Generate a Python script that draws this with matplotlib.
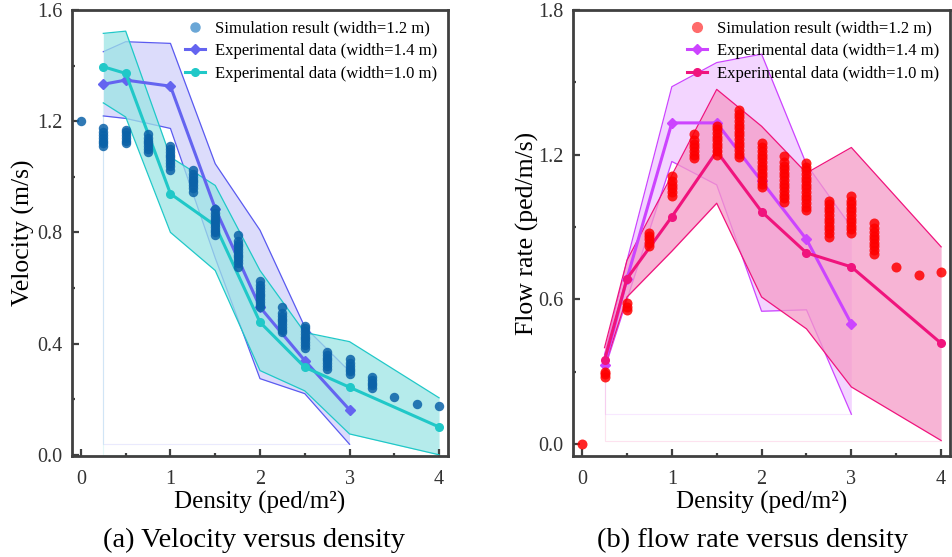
import matplotlib
matplotlib.use("Agg")
import matplotlib.pyplot as plt
from matplotlib.lines import Line2D
from matplotlib.ticker import MultipleLocator

plt.rcParams['font.family'] = ['Liberation Serif', 'DejaVu Serif']

# ---- (a) velocity vs density ----
# simulation result (width=1.2 m): clusters of values at each density
sim_v = {
    0.0: [1.20],
    0.25: [1.11, 1.12, 1.13, 1.14, 1.15, 1.16, 1.175],
    0.5: [1.12, 1.13, 1.14, 1.15, 1.16, 1.17],
    0.75: [1.09, 1.10, 1.11, 1.12, 1.13, 1.14, 1.155],
    1.0: [1.025, 1.04, 1.05, 1.06, 1.07, 1.08, 1.09, 1.10, 1.11],
    1.25: [0.945, 0.96, 0.97, 0.98, 0.99, 1.00, 1.01, 1.025],
    1.5: [0.79, 0.80, 0.81, 0.82, 0.83, 0.84, 0.85, 0.86, 0.87, 0.885],
    1.75: [0.675, 0.69, 0.70, 0.71, 0.72, 0.73, 0.74, 0.75, 0.76, 0.77, 0.79],
    2.0: [0.53, 0.54, 0.55, 0.56, 0.57, 0.58, 0.59, 0.60, 0.61, 0.625],
    2.25: [0.44, 0.45, 0.46, 0.47, 0.48, 0.49, 0.50, 0.51, 0.53],
    2.5: [0.385, 0.395, 0.405, 0.415, 0.425, 0.435, 0.445, 0.455, 0.465],
    2.75: [0.31, 0.32, 0.33, 0.34, 0.35, 0.36, 0.37],
    3.0: [0.29, 0.30, 0.31, 0.32, 0.33, 0.345],
    3.25: [0.24, 0.25, 0.26, 0.27, 0.28],
    3.5: [0.207],
    3.75: [0.183],
    4.0: [0.175],
}

dens_14 = [0.25, 0.5, 1.0, 1.5, 2.0, 2.5, 3.0]
vel_14 = [1.333, 1.348, 1.326, 0.886, 0.531, 0.339, 0.162]
vel_14_up = [1.45, 1.486, 1.48, 1.047, 0.808, 0.46, 0.30]
vel_14_lo = [1.219, 1.21, 1.174, 0.708, 0.274, 0.22, 0.038]

dens_10 = [0.25, 0.5, 1.0, 1.5, 2.0, 2.5, 3.0, 4.0]
vel_10 = [1.396, 1.372, 0.939, 0.825, 0.477, 0.315, 0.243, 0.10]
vel_10_up = [1.516, 1.524, 1.071, 0.969, 0.663, 0.44, 0.407, 0.205]
vel_10_lo = [1.266, 1.215, 0.80, 0.663, 0.303, 0.23, 0.075, 0.0]

# ---- (b) flow rate vs density ----
sim_q = {
    0.0: [0.0],
    0.25: [0.28, 0.29, 0.30],
    0.5: [0.557, 0.57, 0.585],
    0.75: [0.82, 0.835, 0.85, 0.862, 0.875],
    1.0: [1.03, 1.045, 1.06, 1.075, 1.09, 1.11],
    1.25: [1.185, 1.20, 1.215, 1.23, 1.245, 1.26, 1.285],
    1.5: [1.20, 1.215, 1.23, 1.245, 1.26, 1.275, 1.29, 1.305, 1.32],
    1.75: [1.19, 1.205, 1.22, 1.235, 1.25, 1.265, 1.28, 1.295, 1.31, 1.325,
           1.34, 1.355, 1.37, 1.385],
    2.0: [1.065, 1.08, 1.095, 1.11, 1.125, 1.14, 1.155, 1.17, 1.185, 1.20,
          1.215, 1.23, 1.25],
    2.25: [1.005, 1.02, 1.035, 1.05, 1.065, 1.08, 1.095, 1.11, 1.125, 1.14,
           1.155, 1.17, 1.195],
    2.5: [0.97, 0.985, 1.00, 1.015, 1.03, 1.045, 1.06, 1.075, 1.09, 1.105,
          1.12, 1.135, 1.15, 1.165],
    2.75: [0.86, 0.875, 0.89, 0.905, 0.92, 0.935, 0.95, 0.965, 0.98, 0.995, 1.01],
    3.0: [0.875, 0.89, 0.905, 0.92, 0.935, 0.95, 0.965, 0.98, 0.995, 1.01, 1.03],
    3.25: [0.79, 0.805, 0.82, 0.835, 0.85, 0.865, 0.88, 0.895, 0.915],
    3.5: [0.735],
    3.75: [0.70],
    4.0: [0.714],
}

flow_14 = [0.329, 0.686, 1.332, 1.332, 1.09, 0.849, 0.499]
flow_14_up = [0.37, 0.76, 1.482, 1.582, 1.617, 1.16, 0.90]
flow_14_lo = [0.31, 0.60, 1.172, 1.075, 0.551, 0.557, 0.124]

flow_10 = [0.349, 0.686, 0.943, 1.214, 0.964, 0.793, 0.735, 0.418]
flow_10_up = [0.40, 0.762, 1.115, 1.471, 1.318, 1.124, 1.23, 0.818]
flow_10_lo = [0.32, 0.61, 0.80, 0.999, 0.61, 0.478, 0.237, 0.015]

fig = plt.figure(figsize=(9.52, 5.57), dpi=100)
ax1 = fig.add_axes([0.0756, 0.181, 0.395, 0.801])
ax2 = fig.add_axes([0.602, 0.181, 0.396, 0.801])


def band(ax, x, lo, up, fill, alpha, edge, z):
    ax.fill_between(x, lo, up, color=fill, alpha=alpha, lw=0, zorder=z)
    ax.plot(x, up, color=edge, lw=0.9, zorder=z + 0.1)
    ax.plot(x, lo, color=edge, lw=0.9, zorder=z + 0.1)
    # faint closing outline of the filled area
    ax.plot([x[0], x[0], x[-1]], [lo[0], lo[-1], lo[-1]], color=edge,
            lw=0.8, alpha=0.12, zorder=z)


def sim(ax, data, color, ms):
    for d, vals in data.items():
        ax.plot([d] * len(vals), vals, 'o', color=color, ms=ms, mew=0,
                alpha=0.85, zorder=4)


# left
band(ax1, dens_14, vel_14_lo, vel_14_up, '#6464F0', 0.22, '#5A5AF0', 1.0)
band(ax1, dens_10, vel_10_lo, vel_10_up, '#9DE5E5', 0.75, '#20C8C8', 1.5)
ax1.plot(dens_14, vel_14, '-D', color='#6464F0', lw=2.2, ms=5, zorder=3)
ax1.plot(dens_10, vel_10, '-o', color='#20C8C8', lw=2.2, ms=5.5, zorder=3)
sim(ax1, sim_v, '#0B62A8', 6.8)

h1 = [Line2D([], [], ls='', marker='o', color='#6AA6D6', ms=6.5),
      Line2D([], [], ls='-', marker='D', color='#6464F0', lw=2.2, ms=5),
      Line2D([], [], ls='-', marker='o', color='#20C8C8', lw=2.2, ms=5.5)]

# right
band(ax2, dens_14, flow_14_lo, flow_14_up, '#CC44FF', 0.22, '#CC44FF', 1.0)
band(ax2, dens_10, flow_10_lo, flow_10_up, '#F59BC8', 0.75, '#F0147D', 1.5)
ax2.plot(dens_14, flow_14, '-D', color='#CC44FF', lw=2.2, ms=5, zorder=3)
ax2.plot(dens_10, flow_10, '-o', color='#F0147D', lw=2.2, ms=5.5, zorder=3)
sim(ax2, sim_q, '#FF0000', 7.2)

h2 = [Line2D([], [], ls='', marker='o', color='#FF6B6B', ms=7),
      Line2D([], [], ls='-', marker='D', color='#CC44FF', lw=2.2, ms=5),
      Line2D([], [], ls='-', marker='o', color='#F0147D', lw=2.2, ms=5.5)]

labels = ['Simulation result (width=1.2 m)',
          'Experimental data (width=1.4 m)',
          'Experimental data (width=1.0 m)']

for ax, h in [(ax1, h1), (ax2, h2)]:
    ax.legend(h, labels, loc='upper right', bbox_to_anchor=(1.0, 1.0),
              frameon=False, fontsize=12, handlelength=1.2,
              handletextpad=0.6, labelspacing=0.38, borderaxespad=0.25)
    ax.set_xlim(-0.1, 4.1)
    ax.xaxis.set_major_locator(MultipleLocator(1))
    ax.xaxis.set_minor_locator(MultipleLocator(0.5))
    ax.tick_params(which='both', direction='in', colors='#404040',
                   labelcolor='#333333', labelsize=14.5)
    ax.tick_params(which='major', length=5, width=1.6, pad=7)
    ax.tick_params(which='minor', length=2, width=1.6)
    ax.tick_params(axis='x', which='major', pad=10)
    for s in ax.spines.values():
        s.set_linewidth(2.0)
        s.set_color('#404040')
    ax.set_xlabel('Density (ped/m\u00b2)', fontsize=18, labelpad=1)

ax1.set_ylim(-0.005, 1.6)
ax1.yaxis.set_major_locator(MultipleLocator(0.4))
ax1.yaxis.set_minor_locator(MultipleLocator(0.2))
ax1.set_ylabel('Velocity (m/s)', fontsize=18.5, labelpad=1)

ax2.set_ylim(-0.05, 1.8)
ax2.yaxis.set_major_locator(MultipleLocator(0.6))
ax2.yaxis.set_minor_locator(MultipleLocator(0.3))
ax2.set_ylabel('Flow rate (ped/m/s)', fontsize=18.5, labelpad=-1)

fig.text(0.267, 0.018, '(a) Velocity versus density', ha='center', fontsize=20.5)
fig.text(0.79, 0.018, '(b) flow rate versus density', ha='center', fontsize=20.5)

fig.savefig('out.png', dpi=100)
